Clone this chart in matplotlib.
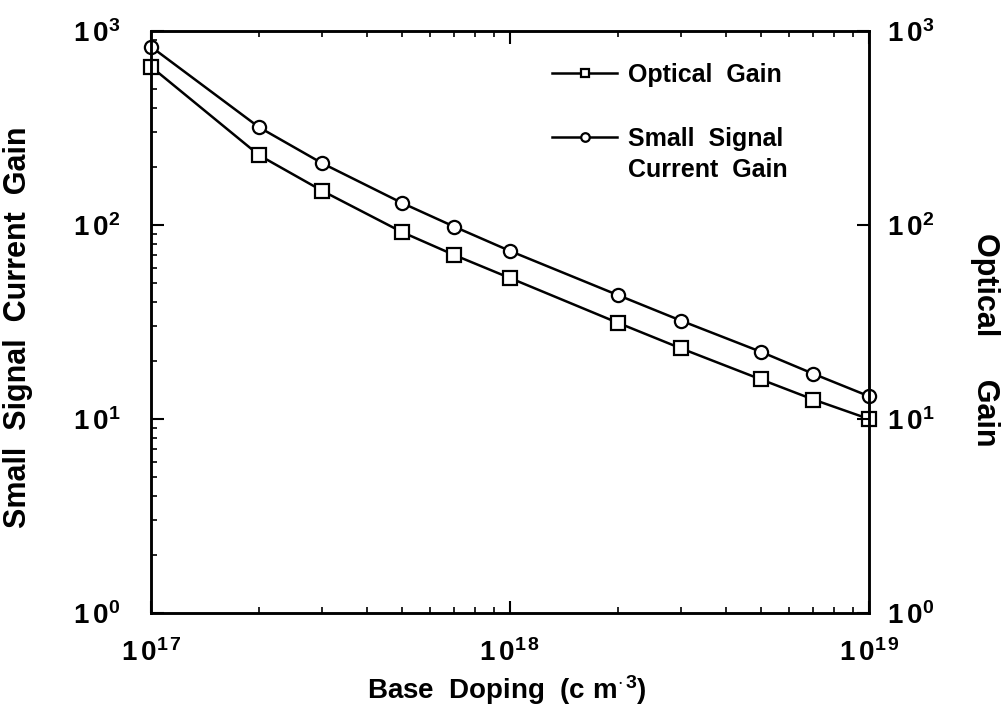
import math
import matplotlib
matplotlib.use("Agg")
import matplotlib.pyplot as plt
from matplotlib.ticker import LogLocator, FixedLocator, FuncFormatter, NullFormatter

plt.rcParams['font.family'] = ['Liberation Sans', 'DejaVu Sans']
plt.rcParams['font.weight'] = 'bold'
plt.rcParams['mathtext.fontset'] = 'custom'
plt.rcParams['mathtext.rm'] = 'Liberation Sans:bold'
plt.rcParams['mathtext.bf'] = 'Liberation Sans:bold'
plt.rcParams['mathtext.it'] = 'Liberation Sans:bold'

# Base doping levels (cm^-3)
doping = [1e17, 2e17, 3e17, 5e17, 7e17, 1e18, 2e18, 3e18, 5e18, 7e18, 1e19]
# Small-signal current gain
current_gain = [830, 319, 208, 130, 98, 73.5, 43.5, 32.1, 22.2, 17.1, 13.1]
# Optical gain
optical_gain = [655, 229, 150, 92, 70, 53.3, 31.3, 23.1, 16.0, 12.6, 10.0]

y_ticks = [1, 10, 100, 1000]
x_ticks = [1e17, 1e18, 1e19]

fig = plt.figure(figsize=(10.08, 7.10), dpi=100)
ax = fig.add_axes([0.1498, 0.1366, 0.7123, 0.8197])

h_opt, = ax.plot(doping, optical_gain, color='black', lw=1.8, marker='s', ms=9.5,
                 mfc='white', mec='black', mew=1.6, clip_on=False)
h_cur, = ax.plot(doping, current_gain, color='black', lw=1.8, marker='o', ms=9.5,
                 mfc='white', mec='black', mew=1.6, clip_on=False)

ax.set_xscale('log')
ax.set_yscale('log')
ax.set_xlim(1e17, 1e19)
ax.set_ylim(1, 1000)


def pow_label(v, pos=None):
    e = int(round(math.log10(v)))
    return r"$\mathbf{1\,0^{%d}}$" % e


def pow_label_x(v, pos=None):
    s = str(int(round(math.log10(v))))
    return r"$\mathbf{1\,0^{%s\,%s}}$" % (s[0], s[1])


ax.xaxis.set_major_locator(FixedLocator(x_ticks))
ax.xaxis.set_minor_locator(LogLocator(base=10, subs=range(2, 10), numticks=20))
ax.xaxis.set_major_formatter(FuncFormatter(pow_label_x))
ax.xaxis.set_minor_formatter(NullFormatter())
ax.yaxis.set_major_locator(FixedLocator(y_ticks))
ax.yaxis.set_minor_locator(LogLocator(base=10, subs=range(2, 10), numticks=20))
ax.yaxis.set_major_formatter(FuncFormatter(pow_label))
ax.yaxis.set_minor_formatter(NullFormatter())

ax.tick_params(axis='both', which='major', direction='in', length=9, width=1.5,
               labelsize=20)
ax.tick_params(axis='both', which='minor', direction='in', length=4, width=1.2)
ax.tick_params(axis='x', which='both', top=True)
ax.tick_params(axis='y', which='both', right=False)
ax.tick_params(axis='x', which='major', pad=19)
ax.tick_params(axis='y', which='major', pad=22)

for sp in ax.spines.values():
    sp.set_linewidth(1.8)

ax.set_xlabel(r"Base  Doping  (c m$^{\mathbf{\cdot\,3}}$)", fontsize=20,
              fontweight='bold')
ax.xaxis.set_label_coords(0.496, -0.104)
ax.set_ylabel("Small  Signal  Current  Gain", fontsize=22, fontweight='bold')
ax.yaxis.set_label_coords(-0.165, 0.491)

# Right-hand axis for the optical gain scale
ax2 = ax.twinx()
ax2.set_yscale('log')
ax2.set_ylim(1, 1000)
ax2.yaxis.set_major_locator(FixedLocator(y_ticks))
ax2.yaxis.set_minor_locator(FixedLocator([]))
ax2.yaxis.set_major_formatter(FuncFormatter(pow_label))
ax2.tick_params(axis='y', which='major', direction='in', length=9, width=1.5,
                labelsize=20, pad=13)
for sp in ax2.spines.values():
    sp.set_linewidth(1.8)
ax2.set_ylabel("Optical     Gain", fontsize=22, fontweight='bold', rotation=270,
               va='center')
ax2.yaxis.set_label_coords(1.162, 0.47)

leg = ax.legend([h_opt, h_cur], ["Optical  Gain", "Small  Signal"],
                loc='upper left', bbox_to_anchor=(0.5585, 0.945), frameon=False,
                fontsize=18, handlelength=2.6, handletextpad=0.45,
                labelspacing=1.6, markerscale=0.65, borderpad=0,
                borderaxespad=0)
ax.text(0.664, 0.761, "Current  Gain", transform=ax.transAxes, fontsize=18,
        fontweight='bold', ha='left', va='center')

fig.savefig("out.png", dpi=100)
